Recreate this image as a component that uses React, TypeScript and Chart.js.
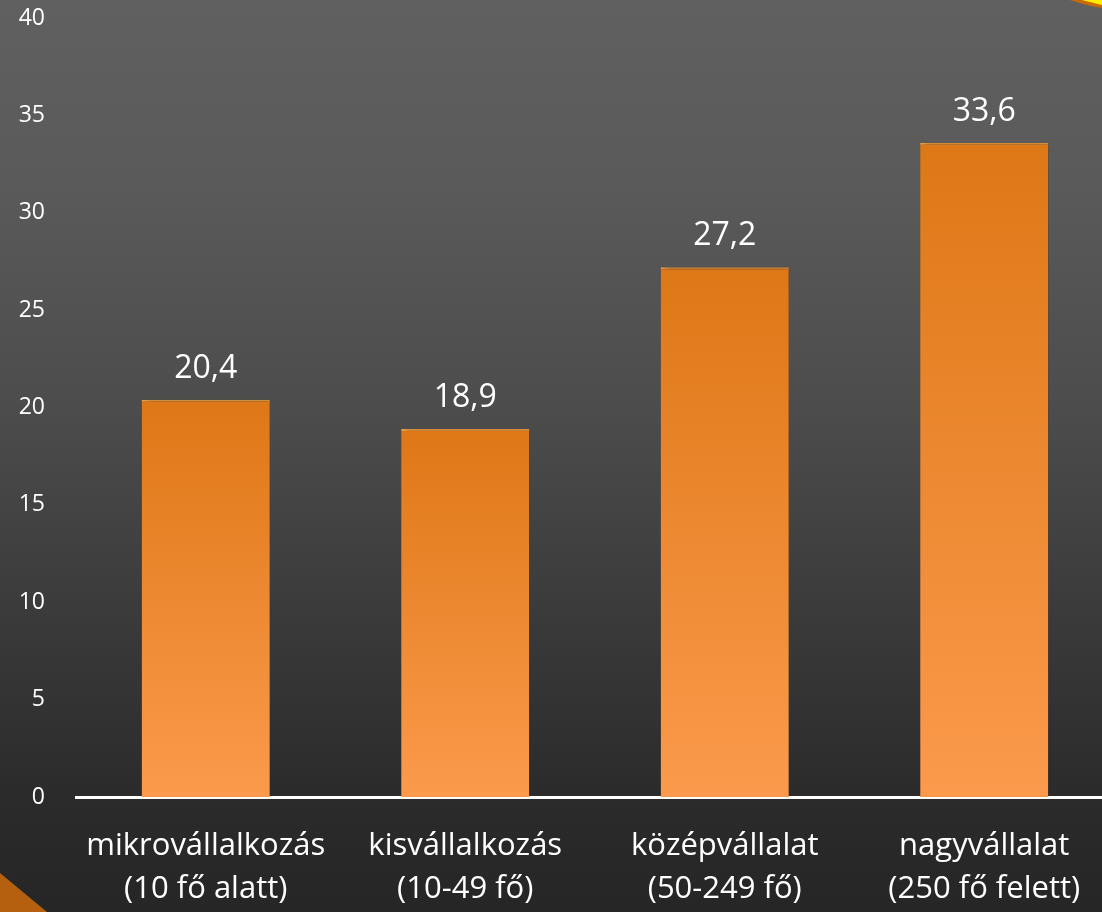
import React, { useEffect, useRef } from "react";
import { Chart, registerables } from "chart.js";

Chart.register(...registerables);

const categories: string[][] = [
  ["mikrovállalkozás", "(10 fő alatt)"],
  ["kisvállalkozás", "(10-49 fő)"],
  ["középvállalat", "(50-249 fő)"],
  ["nagyvállalat", "(250 fő felett)"],
];
const values: number[] = [20.4, 18.9, 27.2, 33.6];
const valueLabels: string[] = ["20,4", "18,9", "27,2", "33,6"];
const yMin = 0;
const yMax = 40;
const yStep = 5;

const FONT = "'Open Sans', 'DejaVu Sans', sans-serif";

const backgroundPlugin = {
  id: "bgDecor",
  beforeDraw(chart: any) {
    const { ctx, width, height } = chart;
    ctx.save();
    const g = ctx.createLinearGradient(0, 0, 0, height);
    g.addColorStop(0, "#606060");
    g.addColorStop(0.2, "#5a5a5a");
    g.addColorStop(0.45, "#4c4c4c");
    g.addColorStop(0.87, "#2b2b2b");
    g.addColorStop(1, "#262626");
    ctx.fillStyle = g;
    ctx.fillRect(0, 0, width, height);
    // bottom-left triangle
    ctx.fillStyle = "#b5600f";
    ctx.beginPath();
    ctx.moveTo(0, 873);
    ctx.lineTo(47, 912);
    ctx.lineTo(0, 912);
    ctx.closePath();
    ctx.fill();
    // top-right shape
    ctx.fillStyle = "#c86a08";
    ctx.beginPath();
    ctx.moveTo(1070, 0);
    ctx.quadraticCurveTo(1088, 6, 1102, 8);
    ctx.lineTo(1102, 0);
    ctx.closePath();
    ctx.fill();
    ctx.fillStyle = "#ffee00";
    ctx.beginPath();
    ctx.moveTo(1082, 0);
    ctx.quadraticCurveTo(1094, 3, 1102, 5);
    ctx.lineTo(1102, 0);
    ctx.closePath();
    ctx.fill();
    ctx.restore();
  },
  beforeDatasetDraw(chart: any) {
    const ctx = chart.ctx;
    ctx.save();
    ctx.shadowColor = "rgba(0,0,0,0.7)";
    ctx.shadowBlur = 7;
    ctx.shadowOffsetX = 3;
    ctx.shadowOffsetY = 1;
  },
  afterDatasetDraw(chart: any) {
    chart.ctx.restore();
  },
  afterDatasetsDraw(chart: any) {
    const ctx = chart.ctx;
    const meta = chart.getDatasetMeta(0);
    ctx.save();
    ctx.fillStyle = "#ffffff";
    ctx.font = `32px ${FONT}`;
    ctx.textAlign = "center";
    ctx.textBaseline = "middle";
    meta.data.forEach((el: any, i: number) => {
      ctx.fillText(valueLabels[i], el.x, el.y - 31);
    });
    ctx.restore();
  },
};

export default function App() {
  const ref = useRef<HTMLCanvasElement | null>(null);
  useEffect(() => {
    if (!ref.current) return;
    const chart = new Chart(ref.current, {
      type: "bar",
      data: {
        labels: categories,
        datasets: [
          {
            data: values,
            backgroundColor: (c: any) => {
              const ch = c.chart;
              const ys = ch.scales && ch.scales.y;
              if (!ys || c.raw === undefined) return "#ec8a30";
              const top = ys.getPixelForValue(c.raw);
              const bot = ys.getPixelForValue(0);
              if (!isFinite(top) || !isFinite(bot) || top === bot) return "#ec8a30";
              const g = ch.ctx.createLinearGradient(0, top, 0, bot);
              g.addColorStop(0, "#de7716");
              g.addColorStop(1, "#fb9a4c");
              return g;
            },
            borderColor: "#f6a446",
            borderWidth: { top: 2, left: 0, right: 0, bottom: 0 },
            borderSkipped: "bottom",
            barPercentage: 0.494,
            categoryPercentage: 1,
          },
        ],
      },
      options: {
        animation: false,
        responsive: false,
        maintainAspectRatio: false,
        layout: { padding: { top: 18, right: 2, left: 0, bottom: 0 } },
        plugins: {
          legend: { display: false },
          tooltip: { enabled: false },
          title: { display: false },
        },
        scales: {
          x: {
            grid: { display: false, drawTicks: false },
            border: { display: true, color: "#ffffff", width: 3 },
            ticks: {
              color: "#ffffff",
              font: { family: FONT, size: 31, lineHeight: 1.38 },
              padding: 28,
              maxRotation: 0,
              autoSkip: false,
            },
            afterFit: (s: any) => {
              s.height = 115;
              s.paddingLeft = 0;
              s.paddingRight = 0;
            },
          },
          y: {
            min: yMin,
            max: yMax,
            grid: { display: false, drawTicks: false },
            border: { display: false },
            ticks: {
              stepSize: yStep,
              color: "#ffffff",
              font: { family: FONT, size: 23 },
              padding: 31,
            },
            afterFit: (s: any) => {
              s.width = 76;
              s.paddingTop = 0;
              s.paddingBottom = 0;
            },
          },
        },
      },
      plugins: [backgroundPlugin],
    });
    return () => chart.destroy();
  }, []);
  return (
    <div
      style={{
        position: "fixed",
        left: 0,
        top: 0,
        width: 1102,
        height: 912,
        overflow: "hidden",
        background: "#333",
      }}
    >
      <canvas ref={ref} width={1116} height={912} style={{ display: "block" }} />
    </div>
  );
}
